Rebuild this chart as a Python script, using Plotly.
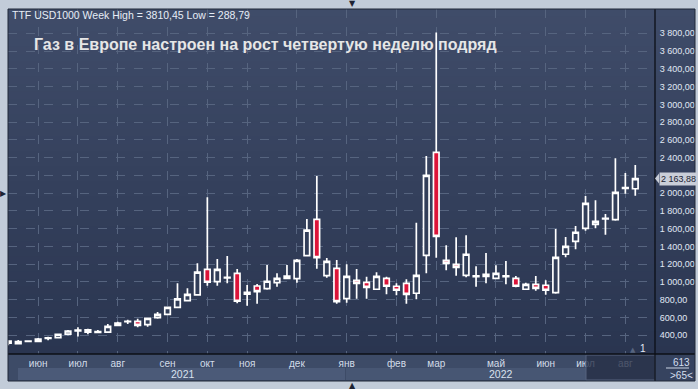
import plotly.graph_objects as go

# ---------------- data ----------------
week = list(range(1, 65))
open_ = [335, 305, 330, 332, 365, 372, 412, 450, 460, 433, 436, 512, 553, 557, 520, 598,
         636, 715, 790, 855, 1143, 1003, 1045, 1098, 862, 955, 925, 992, 1067, 1037, 1296, 1706,
         1071, 1154, 812, 1019, 996, 918, 1041, 952, 985, 873, 1300, 2460, 1244, 1199,
         1075, 1060, 1064, 1041, 1060, 1041, 918, 974, 963, 880, 1312, 1458, 1604, 1649,
         1710, 1702, 2055, 2050]
high = [340, 347, 345, 369, 384, 418, 460, 490, 474, 460, 527, 553, 576, 587, 595, 662,
        720, 985, 930, 1210, 1953, 1259, 1293, 1146, 966, 977, 1191, 1098, 1191, 1259, 1709, 2193,
        1270, 1247, 1199, 1146, 1060, 1109, 1060, 985, 1030, 1668, 2419, 3810.45, 1413, 1503,
        1526, 1177, 1326, 1188, 1236, 1067, 992, 1067, 1019, 1597, 1507, 1630, 1968, 1920,
        1766, 2393, 2227, 2317]
low = [288.79, 300, 322, 321, 344, 365, 400, 385, 412, 422, 433, 505, 527, 490, 497, 587,
       630, 712, 785, 845, 958, 958, 985, 760, 733, 756, 913, 947, 1030, 992, 1290, 1150,
       1048, 756, 767, 812, 812, 915, 861, 850, 756, 805, 1098, 1274, 1132, 1071,
       1053, 947, 985, 1030, 974, 940, 915, 902, 857, 868, 1278, 1368, 1578, 1604,
       1533, 1690, 1994, 1971]
close = [312, 328, 333, 358, 372, 410, 448, 458, 435, 440, 500, 538, 558, 512, 591, 636,
         715, 810, 860, 1110, 997, 1143, 1052, 783, 884, 891, 1008, 1041, 1041, 1244, 1585, 1274,
         1233, 778, 1064, 985, 940, 1064, 952, 907, 861, 1075, 2201, 1514, 1210, 1165,
         1312, 1068, 1087, 1098, 1068, 952, 974, 929, 907, 1278, 1402, 1560, 1886, 1683,
         1717, 2010, 2062, 2163.88]

month_pos = [4, 8, 12, 17, 21, 25, 30, 35, 40, 44, 50, 55, 59, 63]
month_labels = ["июн", "июл", "авг", "сен", "окт", "ноя", "дек", "янв", "фев", "мар",
                "май", "июн", "июл", "авг"]
year_labels = ["2021", "2022"]
y_ticks = list(range(400, 3801, 200))

instrument = "TTF USD1000 Week"
title_text = "Газ в Европе настроен на рост четвертую неделю подряд"
bars_total = 613
bars_visible = 65

# ---------------- helpers ----------------
W, H = 698, 389
ML, MR, MT, MB = 8, 43, 9, 35
PW, PH = W - ML - MR, H - MT - MB
YR = [189, 4074]
FONT = "Liberation Sans, Arial, sans-serif"


def px(x):
    return (x - ML) / PW


def py(y):
    return (H - MB - y) / PH


def ru(v):
    return f"{v:,.2f}".replace(",", " ").replace(".", ",")


def lerp(c1, c2, t):
    return "rgb(%d,%d,%d)" % tuple(round(a + (b - a) * t) for a, b in zip(c1, c2))


fig = go.Figure()
fig.add_trace(go.Candlestick(
    x=week, open=open_, high=high, low=low, close=close,
    increasing=dict(line=dict(color="#ffffff", width=1.7), fillcolor="#323e59"),
    decreasing=dict(line=dict(color="#ffffff", width=1.7), fillcolor="#dc1439"),
    whiskerwidth=0, showlegend=False, hoverinfo="skip",
))

shapes = []
shapes.append(dict(type="rect", xref="paper", yref="paper", x0=px(8), x1=px(695), y0=py(381), y1=py(9),
                   fillcolor="#34405b", line=dict(width=0), layer="below"))
N = 46
top_c, bot_c = (63, 76, 105), (42, 53, 80)
for i in range(N):
    y0 = 9 + i * (345 / N)
    y1 = 9 + (i + 1) * (345 / N)
    shapes.append(dict(type="rect", xref="paper", yref="paper", x0=px(8), x1=px(695),
                       y0=py(y1 + 0.5), y1=py(y0), fillcolor=lerp(top_c, bot_c, i / (N - 1)),
                       line=dict(width=0), layer="below"))
shapes.append(dict(type="rect", xref="paper", yref="paper", x0=px(8), x1=px(655), y0=py(381), y1=py(354),
                   fillcolor="#3d4b67", line=dict(width=0), layer="below"))
shapes.append(dict(type="rect", xref="paper", yref="paper", x0=px(18), x1=px(345), y0=py(380), y1=py(368),
                   fillcolor="#4b5a78", line=dict(width=0), layer="below"))
shapes.append(dict(type="rect", xref="paper", yref="paper", x0=px(346), x1=px(586), y0=py(380), y1=py(368),
                   fillcolor="#475673", line=dict(width=0), layer="below"))
shapes.append(dict(type="rect", xref="paper", yref="paper", x0=px(655), x1=px(695), y0=py(381), y1=py(354),
                   fillcolor="#36435f", line=dict(width=0), layer="below"))
shapes.append(dict(type="rect", xref="paper", yref="paper", x0=px(586), x1=px(655), y0=py(380), y1=py(355),
                   fillcolor="rgba(38,47,70,0.78)", line=dict(color="#56637e", width=1), layer="above"))
shapes.append(dict(type="line", xref="paper", yref="paper", x0=px(655), x1=px(655), y0=py(381), y1=py(9),
                   line=dict(color="#0c0f16", width=1.3), layer="above"))
shapes.append(dict(type="line", xref="paper", yref="paper", x0=px(8), x1=px(695), y0=py(354), y1=py(354),
                   line=dict(color="#0c0f16", width=1.3), layer="above"))
shapes.append(dict(type="line", xref="paper", yref="paper", x0=px(666), x1=px(689), y0=py(368), y1=py(368),
                   line=dict(color="#c9d4e4", width=1), layer="above"))
shapes.append(dict(type="rect", xref="paper", yref="paper", x0=px(8), x1=px(695), y0=py(381), y1=py(9),
                   fillcolor="rgba(0,0,0,0)", line=dict(color="#202839", width=1), layer="above"))
last = close[-1]
dy = 5 * (YR[1] - YR[0]) / PH
shapes.append(dict(type="path", xref="paper", yref="y",
                   path=f"M {px(655)},{last} L {px(659)},{last + dy} L {px(659)},{last - dy} Z",
                   fillcolor="#c9ced8", line=dict(width=0), layer="above"))

ann = []
ann.append(dict(x=px(10), y=py(15), xref="paper", yref="paper", xanchor="left", yanchor="middle",
                text=f"{instrument} High = {max(high):.2f}".replace(".", ",") +
                     f" Low = {min(low):.2f}".replace(".", ","),
                showarrow=False, font=dict(family=FONT, size=10.5, color="#e6edf6")))
ann.append(dict(x=px(32), y=py(44), xref="paper", yref="paper", xanchor="left", yanchor="middle",
                text=title_text, showarrow=False,
                font=dict(family=FONT, size=16, color="#e6e6e6", weight="bold")))
ann.append(dict(x=px(183), y=py(374), xref="paper", yref="paper", xanchor="center", yanchor="middle",
                text=year_labels[0], showarrow=False, font=dict(family=FONT, size=10.5, color="#d9e1ee")))
ann.append(dict(x=px(501), y=py(374), xref="paper", yref="paper", xanchor="center", yanchor="middle",
                text=year_labels[1], showarrow=False, font=dict(family=FONT, size=10.5, color="#d9e1ee")))
ann.append(dict(x=px(659), y=last, xref="paper", yref="y", xanchor="left", yanchor="middle",
                text=ru(last), showarrow=False, bgcolor="#c9ced8", borderpad=1,
                font=dict(family=FONT, size=9, color="#1b2232")))
ann.append(dict(x=px(681), y=py(362), xref="paper", yref="paper", xanchor="center", yanchor="middle",
                text=str(bars_total), showarrow=False, font=dict(family=FONT, size=10, color="#d3deee")))
ann.append(dict(x=px(681), y=py(375), xref="paper", yref="paper", xanchor="center", yanchor="middle",
                text=f"&gt;{bars_visible}&lt;", showarrow=False, font=dict(family=FONT, size=10, color="#d3deee")))
ann.append(dict(x=px(643), y=py(348), xref="paper", yref="paper", xanchor="center", yanchor="middle",
                text="1", showarrow=False, font=dict(family=FONT, size=10, color="#e3e9f3")))
ann.append(dict(x=px(633), y=py(350), xref="paper", yref="paper", xanchor="center", yanchor="middle",
                text="▲", showarrow=False, font=dict(family="DejaVu Sans", size=7, color="#56647f")))
for x, y, t in [(352, 3, "▼"), (3, 194, "▶"), (352, 385, "▲")]:
    ann.append(dict(x=px(x), y=py(y), xref="paper", yref="paper", xanchor="center", yanchor="middle",
                    text=t, showarrow=False, font=dict(family="DejaVu Sans", size=8, color="#1d2333")))

fig.update_layout(
    template="none",
    width=W, height=H, autosize=False,
    margin=dict(l=ML, r=MR, t=MT, b=MB, pad=0),
    paper_bgcolor="#c2ccd9",
    plot_bgcolor="rgba(0,0,0,0)",
    separators=", ",
    boxgap=0.2,
    font=dict(family=FONT),
    shapes=shapes,
    annotations=ann,
    xaxis=dict(
        range=[0.97, 65.98], rangeslider=dict(visible=False), automargin=False,
        tickmode="array", tickvals=month_pos, ticktext=month_labels,
        showgrid=True, gridcolor="#56647f", griddash="dash", gridwidth=1,
        zeroline=False, showline=False,
        ticks="outside", ticklen=0, tickcolor="rgba(0,0,0,0)",
        tickfont=dict(family=FONT, size=10, color="#d2dbe8"),
    ),
    yaxis=dict(
        range=YR, side="right", automargin=False,
        tickmode="array", tickvals=y_ticks, tickformat=",.2f",
        showgrid=True, gridcolor="#56647f", griddash="dash", gridwidth=1,
        zeroline=False, showline=False,
        ticks="outside", ticklen=2, tickcolor="rgba(0,0,0,0)",
        tickfont=dict(family=FONT, size=9, color="#e0e8f4"),
    ),
)

fig.write_html("out.html", config={"displayModeBar": False, "staticPlot": True},
               post_script="document.body.style.margin='0';document.body.style.overflow='hidden';")
